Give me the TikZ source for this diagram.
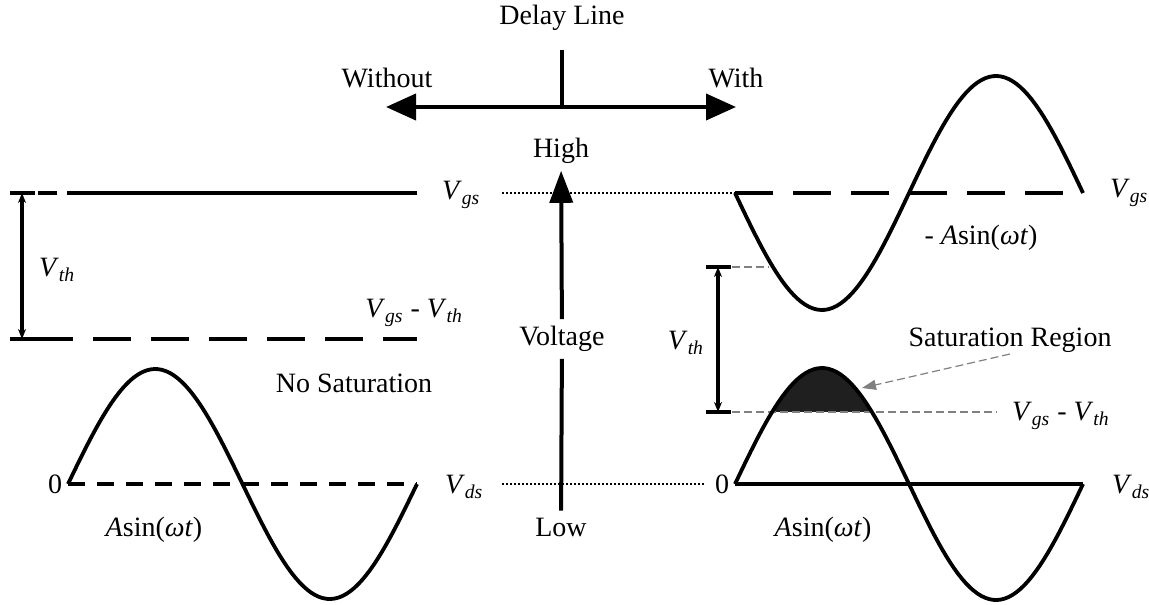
\documentclass[tikz,border=0pt]{standalone}
\usepackage{fontspec}
\setmainfont{Liberation Serif}
\usetikzlibrary{arrows.meta}

\newcommand{\vsub}[1]{\textit{V}\textsubscript{\textit{#1}}}

\begin{document}
\begin{tikzpicture}[x=0.5pt,y=-0.5pt,>=Stealth,font=\fontsize{14}{16}\selectfont,
thickline/.style={line width=2pt},
wave/.style={line width=1.9pt},
dashline/.style={line width=1.6pt,dash pattern=on 19pt off 10pt},
shortdash/.style={line width=1.6pt,dash pattern=on 8.5pt off 6pt},
dotline/.style={line width=0.6pt,dash pattern=on 1pt off 1pt},
guide/.style={gray,line width=0.6pt,dash pattern=on 4pt off 2pt},
vth/.style={line width=2pt,{Stealth[length=5pt,width=4pt]}-{Stealth[length=5pt,width=4pt]}}]
\useasboundingbox (0,0) rectangle (1149,604);

% delay line
\node (delay) at (562,18) {Delay Line};
\coordinate (stem) at (562,50);
\coordinate (mid) at (562,107);
\coordinate (lft) at (386,107);
\coordinate (rgt) at (736,107);
\draw[thickline] (stem)--(mid);
\draw[thickline,-{Triangle[length=15pt,width=13pt]}] (mid)--(lft);
\draw[thickline,-{Triangle[length=15pt,width=13pt]}] (mid)--(rgt);
\node (without) at (387,78) {Without};
\node (with) at (736,78) {With};

% voltage axis
\node (high) at (561,151) {High};
\node (volt) at (562,339) {Voltage};
\node (low) at (561,527) {Low};
\draw[thickline,-{Triangle[length=16pt,width=11.5pt]}] (volt)--(high);
\draw[thickline] (volt)--(low);

% left: without
\coordinate (lt1) at (10,193);
\coordinate (lt2) at (35,193);
\coordinate (lb1) at (10,339);
\coordinate (lb2) at (35,339);
\draw[thickline] (lt1)--(lt2) (lb1)--(lb2);
\draw[thickline] (38,193)--(57,193);
\draw[thickline] (67,193)--(417,193);
\draw[dashline] (lb2)--(417,339);
\draw[vth] (22,193)--(22,339);
\node[anchor=west] (lvth) at (32,270) {\vsub{th}};
\node[anchor=west] (lvgs) at (435,195) {\vsub{gs}};
\node[anchor=east] (lvgsth) at (470,313) {\vsub{gs} - \vsub{th}};
\node (nosat) at (354,383) {No Saturation};
\node (lzero) at (55,484) {0};
\node[anchor=west] (lvds) at (438,487) {\vsub{ds}};
\node (lsin) at (154,530) {\textit{A}sin(\textit{ωt})};
\draw[shortdash] (68,484)--(417,484);
\draw[wave] plot[domain=0:360,samples=90] ({68+0.9694*\x},{484-115*sin(\x)});

% dotted levels
\coordinate (dgs1) at (502,193);
\coordinate (dgs2) at (735,193);
\coordinate (dds1) at (502,484);
\coordinate (dds2) at (705,484);
\draw[dotline] (dgs1)--(dgs2) (dds1)--(dds2);

% right: with
\fill[black!88] plot[domain=38.4:141.6,samples=40] ({735+0.9667*\x},{484-116*sin(\x)})--cycle;
\draw[guide] (732,267)--(769,267);
\draw[guide] (732,412)--(997,412);
\draw[dashline] (dgs2)--(1083,193);
\draw[wave] plot[domain=0:360,samples=90] ({735+0.9667*\x},{193+117*sin(\x)});
\draw[wave] (735,484)--(1083,484);
\draw[wave] plot[domain=0:360,samples=90] ({735+0.9667*\x},{484-116*sin(\x)});
\coordinate (rt1) at (706,267);
\coordinate (rt2) at (731,267);
\coordinate (rb1) at (706,412);
\coordinate (rb2) at (731,412);
\draw[thickline] (rt1)--(rt2) (rb1)--(rb2);
\draw[vth] (718,267)--(718,412);
\node (rvth) at (686,343) {\vsub{th}};
\node[anchor=west] (rvgs) at (1103,193) {\vsub{gs}};
\node (rmsin) at (981,238) {- \textit{A}sin(\textit{ωt})};
\node (satreg) at (1010,340) {Saturation Region};
\coordinate (sattip) at (862,388);
\draw[guide,-{Triangle[length=7pt,width=5pt]}] (1010,354)--(sattip);
\node[anchor=west] (rvgsth) at (1005,416) {\vsub{gs} - \vsub{th}};
\node (rzero) at (722,484) {0};
\node[anchor=west] (rvds) at (1105,487) {\vsub{ds}};
\node (rsin) at (823,530) {\textit{A}sin(\textit{ωt})};
\end{tikzpicture}
\end{document}
